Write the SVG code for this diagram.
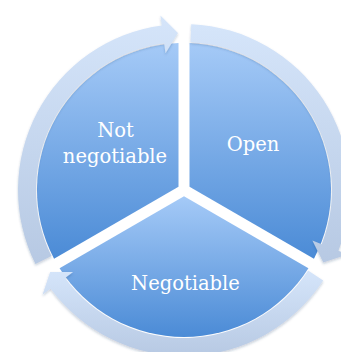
<svg xmlns="http://www.w3.org/2000/svg" width="341" height="352" viewBox="0 0 341 352">
  <defs>
    <linearGradient id="sectorFill" x1="0" y1="0" x2="0" y2="1">
      <stop offset="0" stop-color="#a5caf7"/>
      <stop offset="1" stop-color="#4b8bd6"/>
    </linearGradient>
    <linearGradient id="ringFill" x1="0" y1="0" x2="0" y2="1">
      <stop offset="0" stop-color="#d5e5fa"/>
      <stop offset="1" stop-color="#b7c9e3"/>
    </linearGradient>
    <filter id="soft" x="-10%" y="-10%" width="120%" height="120%">
      <feDropShadow dx="0" dy="1.5" stdDeviation="1.2" flood-color="#1d3a66" flood-opacity="0.25"/>
    </filter>
    <style>
      .sector { fill: url(#sectorFill); }
      .ring { fill: url(#ringFill); filter: url(#soft); }
      .label { font-family: "DejaVu Serif", "Liberation Serif", serif; font-size: 19.5px; fill: #ffffff; text-anchor: middle; }
    </style>
  </defs>

  <rect width="341" height="352" fill="#ffffff"/>

  <!-- pie segments, centre (184,190), radius 147, 11px gaps -->
  <g id="node-open">
    <path class="sector" d="M189.5,186.8 L189.5,43.1 A147,147 0 0 1 313.95,258.7 Z"/>
    <text class="label" x="253" y="151">Open</text>
  </g>
  <g id="node-negotiable">
    <path class="sector" d="M184,196.35 L308.45,268.2 A147,147 0 0 1 59.55,268.2 Z"/>
    <text class="label" x="185.5" y="290">Negotiable</text>
  </g>
  <g id="node-not-negotiable">
    <path class="sector" d="M178.5,186.8 L54.05,258.7 A147,147 0 0 1 178.5,43.1 Z"/>
    <text class="label" x="115.5" y="137">Not</text>
    <text class="label" x="115" y="162.5">negotiable</text>
  </g>

  <!-- circular arrows around the pie -->
  <g id="connectors">
    <path class="ring" d="M51.55,256.04 A148,148 0 0 1 164.17,43.33 L165.51,53.24 L177.97,33.12 L160.42,15.59 L161.76,25.50 A166,166 0 0 0 35.44,264.07 Z"/>
    <path class="ring" d="M190.46,42.14 A148,148 0 0 1 321.70,244.24 L312.40,240.58 L323.26,262.49 L347.75,254.50 L338.45,250.84 A166,166 0 0 0 191.24,24.16 Z"/>
    <path class="ring" d="M308.12,270.61 A148,148 0 0 1 65.03,278.03 L73.07,272.09 L50.14,272.03 L42.52,294.69 L50.56,288.74 A166,166 0 0 0 323.22,280.41 Z"/>
  </g>
</svg>
